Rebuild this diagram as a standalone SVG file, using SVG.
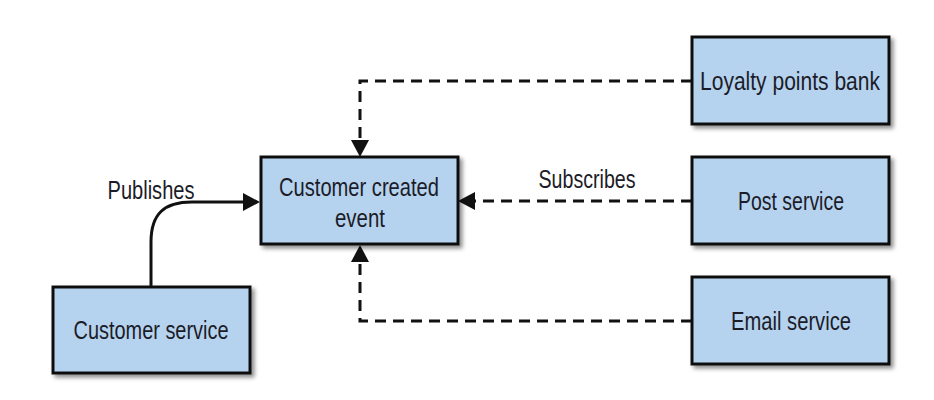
<svg xmlns="http://www.w3.org/2000/svg" width="934" height="400" viewBox="0 0 934 400">
<defs>
<style>
.box{fill:#b5d3ef;stroke:#111;stroke-width:3;filter:url(#sh)}
.t{font-family:"Liberation Sans",Arial,sans-serif;font-size:26px;fill:#1c1c28;text-anchor:middle}
.solid{fill:none;stroke:#111;stroke-width:3}
.dash{fill:none;stroke:#111;stroke-width:3;stroke-dasharray:11 7}
</style>
<filter id="sh" x="-10%" y="-10%" width="130%" height="140%">
<feDropShadow dx="3" dy="3" stdDeviation="2" flood-color="#000" flood-opacity="0.45"/>
</filter>
<marker id="ah" markerUnits="userSpaceOnUse" markerWidth="18" markerHeight="20" viewBox="0 0 18 20" refX="0" refY="10" orient="auto">
<path d="M0,1 L17,10 L0,19 z" fill="#111"/>
</marker>
</defs>
<rect width="934" height="400" fill="#fff"/>
<g id="connectors">
<path class="solid" d="M151,286 V242 C151,214 164,202 192,202 H243" marker-end="url(#ah)"/>
<text class="t" x="151" y="199" textLength="87" lengthAdjust="spacingAndGlyphs">Publishes</text>
<path class="dash" d="M692,81 H360 V140" marker-end="url(#ah)"/>
<path class="dash" d="M692,201 H475" marker-end="url(#ah)"/>
<text class="t" x="587" y="188" textLength="97" lengthAdjust="spacingAndGlyphs">Subscribes</text>
<path class="dash" d="M692,321 H360 V262" marker-end="url(#ah)"/>
</g>
<g id="customer-created-event">
<rect class="box" x="261" y="157" width="197" height="87"/>
<text class="t" x="359" y="196" textLength="160" lengthAdjust="spacingAndGlyphs">Customer created</text>
<text class="t" x="360" y="227" textLength="50" lengthAdjust="spacingAndGlyphs">event</text>
</g>
<g id="customer-service">
<rect class="box" x="53" y="287" width="197" height="86"/>
<text class="t" x="151" y="339" textLength="155" lengthAdjust="spacingAndGlyphs">Customer service</text>
</g>
<g id="loyalty-points-bank">
<rect class="box" x="692" y="37" width="197" height="87"/>
<text class="t" x="790" y="90" textLength="180" lengthAdjust="spacingAndGlyphs">Loyalty points bank</text>
</g>
<g id="post-service">
<rect class="box" x="692" y="157" width="197" height="87"/>
<text class="t" x="791" y="210" textLength="106" lengthAdjust="spacingAndGlyphs">Post service</text>
</g>
<g id="email-service">
<rect class="box" x="692" y="277" width="197" height="87"/>
<text class="t" x="791" y="330" textLength="120" lengthAdjust="spacingAndGlyphs">Email service</text>
</g>
</svg>
